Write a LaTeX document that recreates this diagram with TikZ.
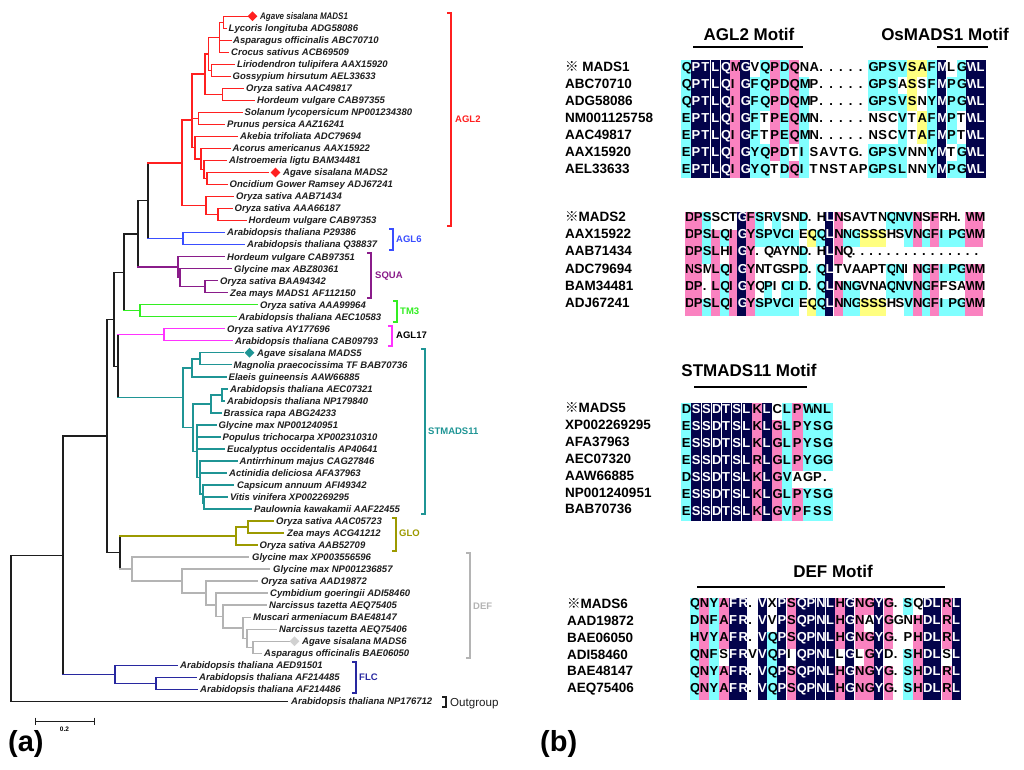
\documentclass[tikz,border=0pt]{standalone}
\usepackage{fontspec}
\usepackage{graphicx}
\setmainfont{Liberation Sans}
\newfontfamily\cjk{Noto Sans CJK SC}
\usetikzlibrary{shapes.geometric}
\definecolor{tr}{HTML}{FF2020}
\definecolor{tb}{HTML}{3A4EFF}
\definecolor{tp}{HTML}{8A1C8A}
\definecolor{tg}{HTML}{33EE22}
\definecolor{tm}{HTML}{FF33FF}
\definecolor{tt}{HTML}{1F9595}
\definecolor{to}{HTML}{9C9A00}
\definecolor{tgr}{HTML}{B4B4B4}
\definecolor{tf}{HTML}{2828A0}
\definecolor{tk}{HTML}{1E1E1E}
\definecolor{coln}{HTML}{03034B}
\definecolor{colp}{HTML}{FA82C0}
\definecolor{colc}{HTML}{80FFFF}
\definecolor{coly}{HTML}{FFFF80}
\newcommand\leaffont{\fontsize{9.5}{11}\selectfont\bfseries\itshape}
\newcommand\brfont{\fontsize{9.5}{11}\selectfont\bfseries}
\newcommand\seqfont{\fontsize{13}{15}\selectfont\bfseries}
\newcommand\lblfont{\fontsize{13.5}{15}\selectfont\bfseries}
\newcommand\hdrfont{\fontsize{17}{19}\selectfont\bfseries}
\newcount\cidx
\newcount\cellno
\def\alncell#1#2{%
  \global\advance\cellno by 1
  \pgfmathsetmacro\cx{\xz+\cw*\the\cidx}%
  \pgfmathsetmacro\cyt{\ry-\bt}%
  \pgfmathsetmacro\cyb{\ry-\bt+\chh}%
  \ifx#2w\else
    \ifx#2n\pgfmathsetmacro\cxr{\cx+\cw-0.45}\else\pgfmathsetmacro\cxr{\cx+\cw}\fi
    \fill[col#2] (\cx,\cyt) rectangle (\cxr,\cyb);
  \fi
  \ifx#2n\def\tc{white}\else\def\tc{black}\fi
  \pgfmathsetmacro\tx{\cx+0.3}%
  \pgfmathsetmacro\tyb{\ry+4.65}%
  \node[seqch,text=\tc] (q\the\cellno) at (\tx,\tyb) {#1};%
}
\def\alnwalk#1#2\endA#3#4\endB{%
  \alncell{#1}{#3}%
  \advance\cidx by 1\relax
  \ifx\relax#2\else\alnwalk#2\endA#4\endB\fi}
\def\alnrow#1#2#3{\def\ry{#1}\cidx=0\relax\alnwalk#2\relax\endA#3\relax\endB}
\begin{document}
\begin{tikzpicture}[x=1pt,y=-1pt,
  leaf/.style={anchor=base west,inner sep=0pt,font=\leaffont,text=tk},
  brlab/.style={anchor=base west,inner sep=0pt,font=\brfont},
  seqch/.style={anchor=base west,inner sep=0pt,font=\seqfont},
  rowlab/.style={anchor=base west,inner sep=0pt,font=\lblfont,text=black},
  hdr/.style={anchor=base,inner sep=0pt,font=\hdrfont,text=black},
  branch/.style={line width=1.4pt,line cap=rect},
  bkt/.style={line width=1.6pt},
  dmd/.style={diamond,aspect=1,minimum width=10pt,minimum height=10pt,inner sep=0pt,draw=none}]
\fill[white] (0,0) rectangle (1024,769);
\useasboundingbox (0,0) rectangle (1024,769);
% ---------------- leaves
\foreach \i/\a/\b/\t in {
1/247/260/\scalebox{0.84}[1]{Agave sisalana MADS1},
2/226/228.5/Lycoris longituba ADG58086,
3/231/233/Asparagus officinalis ABC70710,
4/228/231/Crocus sativus ACB69509,
5/234/237/Liriodendron tulipifera AAX15920,
6/230/232.5/Gossypium hirsutum AEL33633,
7/243/246/Oryza sativa AAC49817,
8/254/257/Hordeum vulgare CAB97355,
9/242/244.5/Solanum lycopersicum NP001234380,
10/224/227/Prunus persica AAZ16241,
11/237/240/Akebia trifoliata ADC79694,
12/230/232.5/Acorus americanus AAX15922,
13/226/229/Alstroemeria ligtu BAM34481,
14/268/283/Agave sisalana MADS2,
15/227/229.5/Oncidium Gower Ramsey ADJ67241,
16/233/236/Oryza sativa AAB71434,
17/232/234.5/Oryza sativa AAA66187,
18/246/248.5/Hordeum vulgare CAB97353,
19/224/227/Arabidopsis thaliana P29386,
20/244/247/Arabidopsis thaliana Q38837,
21/224/227/Hordeum vulgare CAB97351,
22/231/234/Glycine max ABZ80361,
23/217/220/Oryza sativa BAA94342,
24/227/230/Zea mays MADS1 AF112150,
25/257/260/Oryza sativa AAA99964,
26/236/238.5/Arabidopsis thaliana AEC10583,
27/224/227/Oryza sativa AY177696,
28/232/235/Arabidopsis thaliana CAB09793,
29/243/257/Agave sisalana MADS5,
30/231/233.5/Magnolia praecocissima TF BAB70736,
31/226/228.5/Elaeis guineensis AAW66885,
32/227/230/Arabidopsis thaliana AEC07321,
33/224/227/Arabidopsis thaliana NP179840,
34/221/223.5/Brassica rapa ABG24233,
35/216/218.5/Glycine max NP001240951,
36/220/222.5/Populus trichocarpa XP002310310,
37/224/227/Eucalyptus occidentalis AP40641,
38/237/239.5/Antirrhinum majus CAG27846,
39/226/229/Actinidia deliciosa AFA37963,
40/233/237/Capsicum annuum AFI49342,
41/227/230/Vitis vinifera XP002269295,
42/251/254/Paulownia kawakamii AAF22455,
43/273/276/Oryza sativa AAC05723,
44/283/287/Zea mays ACG41212,
45/257/259.5/Oryza sativa AAB52709,
46/248/252/Glycine max XP003556596,
47/269/273/Glycine max NP001236857,
48/257/261/Oryza sativa AAD19872,
49/267/270/Cymbidium goeringii ADI58460,
50/266/269/Narcissus tazetta AEQ75405,
51/250/253/Muscari armeniacum BAE48147,
52/276/279/Narcissus tazetta AEQ75406,
53/290/302/Agave sisalana MADS6,
54/261/264/Asparagus officinalis BAE06050,
55/177/180/Arabidopsis thaliana AED91501,
56/196/199/Arabidopsis thaliana AF214485,
57/197/200/Arabidopsis thaliana AF214486,
58/287/291/Arabidopsis thaliana NP176712}{
  \pgfmathsetmacro\ly{16.2+12.02*(\i-1)}
  \coordinate (L\i) at (\a,\ly);
  \pgfmathsetmacro\lyb{\ly+3.4}
  \node[leaf] (T\i) at (\b,\lyb) {\t};
}
% ---------------- internal nodes
\coordinate (na) at (223.3,22.2);
\coordinate (nb) at (219.3,37.3);
\coordinate (n2) at (211.7,70.3);
\coordinate (n3) at (208.3,53.8);
\coordinate (n4) at (222.3,94.3);
\coordinate (n5) at (205,74.1);
\coordinate (n6) at (198.3,118.4);
\coordinate (n7) at (207,178.5);
\coordinate (n8) at (204,169.5);
\coordinate (n9) at (201,159);
\coordinate (n10) at (195,147.7);
\coordinate (n11) at (192,120);
\coordinate (n13) at (218,214.5);
\coordinate (n14) at (206,205.5);
\coordinate (n15) at (182,162.8);
\coordinate (g6) at (183,238.6);
\coordinate (b1) at (148,200.7);
\coordinate (s3) at (205,286.7);
\coordinate (s2) at (180,277.6);
\coordinate (s1) at (178,267.1);
\coordinate (b2) at (138,233.9);
\coordinate (tm3) at (140,310.7);
\coordinate (b3) at (124,272.3);
\coordinate (a17) at (164,334.7);
\coordinate (u1) at (200,358.8);
\coordinate (u2) at (192,367.8);
\coordinate (l1) at (222,394.8);
\coordinate (l2) at (211,403.9);
\coordinate (l5) at (204,503);
\coordinate (l4) at (203,494);
\coordinate (l3) at (200,477.5);
\coordinate (l6) at (197,451.2);
\coordinate (l7) at (193,427.6);
\coordinate (st) at (183,397.7);
\coordinate (b5) at (118,366.2);
\coordinate (b4) at (114,319.3);
\coordinate (o1) at (248,527.1);
\coordinate (o2) at (236,536.1);
\coordinate (d8) at (253,647.3);
\coordinate (d7) at (247,638.3);
\coordinate (d6) at (243,627.8);
\coordinate (d5) at (223,616.5);
\coordinate (d4) at (216,604.9);
\coordinate (d3) at (206,593);
\coordinate (d2) at (182,581.1);
\coordinate (d1) at (132,569.1);
\coordinate (b6) at (120,552.6);
\coordinate (b7) at (107,436);
\coordinate (f2) at (156,683.3);
\coordinate (f1) at (115,674.3);
\coordinate (b8) at (63,555.2);
\coordinate (rt) at (11,628);
% ---------------- branches
\foreach \p/\c/\pc/\cc in {
na/L1/tr/tr, na/L2/tr/tr, nb/na/tr/tr, nb/L3/tr/tr, nb/L4/tr/tr,
n2/L5/tr/tr, n2/L6/tr/tr, n3/nb/tr/tr, n3/n2/tr/tr, n4/L7/tr/tr, n4/L8/tr/tr,
n5/n3/tr/tr, n5/n4/tr/tr, n6/L9/tr/tr, n6/L10/tr/tr, n7/L14/tr/tr, n7/L15/tr/tr,
n8/L13/tr/tr, n8/n7/tr/tr, n9/L12/tr/tr, n9/n8/tr/tr, n10/L11/tr/tr, n10/n9/tr/tr,
n11/n5/tr/tr, n11/n6/tr/tr, n11/n10/tr/tr, n13/L17/tr/tr, n13/L18/tr/tr,
n14/L16/tr/tr, n14/n13/tr/tr, n15/n11/tr/tr, n15/n14/tr/tr,
b1/n15/tk/tr, b1/g6/tk/tb, g6/L19/tb/tb, g6/L20/tb/tb,
s3/L23/tp/tp, s3/L24/tp/tp, s2/L22/tp/tp, s2/s3/tp/tp, s1/L21/tp/tp, s1/s2/tp/tp,
b2/b1/tk/tk, b2/s1/tk/tp,
tm3/L25/tg/tg, tm3/L26/tg/tg, b3/b2/tk/tk, b3/tm3/tk/tg,
a17/L27/tm/tm, a17/L28/tm/tm,
u1/L29/tt/tt, u1/L30/tt/tt, u2/u1/tt/tt, u2/L31/tt/tt,
l1/L32/tt/tt, l1/L33/tt/tt, l2/l1/tt/tt, l2/L34/tt/tt,
l5/L41/tt/tt, l5/L42/tt/tt, l4/L40/tt/tt, l4/l5/tt/tt,
l3/L38/tt/tt, l3/L39/tt/tt, l3/l4/tt/tt,
l6/L35/tt/tt, l6/L36/tt/tt, l6/L37/tt/tt, l6/l3/tt/tt,
l7/l2/tt/tt, l7/l6/tt/tt, st/u2/tt/tt, st/l7/tt/tt,
b5/a17/tk/tm, b5/st/tk/tt, b4/b3/tk/tk, b4/b5/tk/tk,
o1/L43/to/to, o1/L44/to/to, o2/o1/to/to, o2/L45/to/to,
d8/L53/tgr/tgr, d8/L54/tgr/tgr, d7/L52/tgr/tgr, d7/d8/tgr/tgr,
d6/L51/tgr/tgr, d6/d7/tgr/tgr, d5/L50/tgr/tgr, d5/d6/tgr/tgr,
d4/L49/tgr/tgr, d4/d5/tgr/tgr, d3/L48/tgr/tgr, d3/d4/tgr/tgr,
d2/L47/tgr/tgr, d2/d3/tgr/tgr, d1/L46/tgr/tgr, d1/d2/tgr/tgr,
b6/o2/tk/to, b6/d1/tk/tgr, b7/b4/tk/tk, b7/b6/tk/tk,
f2/L56/tf/tf, f2/L57/tf/tf, f1/L55/tf/tf, f1/f2/tf/tf,
b8/b7/tk/tk, b8/f1/tk/tf, rt/b8/tk/tk, rt/L58/tk/tk}{
  \draw[branch,color=\pc] (\p) -- (\p |- \c);
  \draw[branch,color=\cc] (\p |- \c) -- (\c);
}
% ---------------- diamonds
\node[dmd,fill=tr] (D1) at (252.5,16.2) {};
\node[dmd,fill=tr] (D14) at (275.5,172.5) {};
\node[dmd,fill=tt] (D29) at (249.5,352.8) {};
\node[dmd,fill=black!18] (D53) at (294.5,641.2) {};
% ---------------- brackets
\foreach \x/\ya/\yb/\cl in {451/13/226/tr, 393/229/250/tb, 371/253/298/tp,
  397/301/322/tg, 392/326/346/tm, 425/349/514/tt, 396/518/551/to,
  470/553/658/tgr, 356/662/693/tf, 446/697/707/tk}{
  \draw[bkt,color=\cl] (\x-4,\ya) -- (\x,\ya) -- (\x,\yb) -- (\x-4,\yb);
}
\node[brlab,text=tr] (cAGL2) at (455,122.4) {AGL2};
\node[brlab,text=tb] (cAGL6) at (396,242.4) {AGL6};
\node[brlab,text=tp] (cSQUA) at (375,278.4) {SQUA};
\node[brlab,text=tg] (cTM3) at (400,314.4) {TM3};
\node[brlab,text=black] (cAGL17) at (396,338.4) {AGL17};
\node[brlab,text=tt] (cST) at (428,434.4) {STMADS11};
\node[brlab,text=to] (cGLO) at (399,536.4) {GLO};
\node[brlab,text=tgr] (cDEF) at (473,609.4) {DEF};
\node[brlab,text=tf] (cFLC) at (359,680.4) {FLC};
\node[anchor=base west,inner sep=0pt,font=\fontsize{11.6}{13}\selectfont,text=tk] (cOut) at (450,706.2) {Outgroup};
% ---------------- scale bar
\draw[line width=1pt,tk] (35,721) -- (94,721);
\draw[line width=1pt,tk] (35,717.5) -- (35,724.5);
\draw[line width=1pt,tk] (94,717.5) -- (94,724.5);
\node[anchor=base,inner sep=0pt,font=\fontsize{6.5}{7}\selectfont\bfseries] (sc) at (64.5,731) {0.2};
\node[anchor=base west,inner sep=0pt,font=\fontsize{29}{31}\selectfont\bfseries] (pa) at (8,751) {(a)};
\node[anchor=base west,inner sep=0pt,font=\fontsize{29}{31}\selectfont\bfseries] (pb) at (540,751) {(b)};
% ---------------- motif headers
\node[hdr] (h1) at (749,40.3) {AGL2 Motif};
\draw[line width=2.2pt] (693,47) -- (803,47);
\node[hdr] (h2) at (945,40.3) {OsMADS1 Motif};
\draw[line width=2.2pt] (937,47) -- (988,47);
\node[hdr] (h3) at (749,376) {STMADS11 Motif};
\draw[line width=2.2pt] (694,387) -- (807,387);
\node[hdr] (h4) at (833,577.6) {DEF Motif};
\draw[line width=2.2pt] (697,587) -- (945,587);
% ---------------- panel 1
\def\xz{681.3}\def\cw{9.83}\def\chh{16.95}\def\bt{7}
\alnrow{66.7}{QPTLQMGVQPDQNA.....GPSVSAFMLGWL}{cnnnnpnwcpcpwwwwwwwccccyycnwcnn}
\alnrow{83.65}{QPTLQIGFQPDQMP.....GPSASSFMPGWL}{cnnnnpnccpcpcwwwwwwcccwywcnccnn}
\alnrow{100.6}{QPTLQIGFQPDQMP.....GPSVSNYMPGWL}{cnnnnpnccpcpcwwwwwwccccywcnccnn}
\alnrow{117.55}{EPTLQIGFTPEQMN.....NSCVTAFMPTWL}{cnnnnpncwpcpcwwwwwwwwwcwycncwnn}
\alnrow{134.5}{EPTLQIGFTPEQMN.....NSCVTAFMPTWL}{cnnnnpncwpcpcwwwwwwwwwcwycncwnn}
\alnrow{151.45}{EPTLQIGYQPDTISAVTG.GPSVNNYMTGWL}{cnnnnpnccpcwcwwwwwwccccwwcnwcnn}
\alnrow{168.4}{EPTLQIGYQTDQITNSTAPGPSLNNYMPGWL}{cnnnnpnccwcpcwwwwwwccccwwcnccnn}
\node[rowlab] (r11) at (565,71.35) {{\cjk ※} MADS1};
\node[rowlab] (r12) at (565,88.3) {ABC70710};
\node[rowlab] (r13) at (565,105.25) {ADG58086};
\node[rowlab] (r14) at (565,122.2) {NM001125758};
\node[rowlab] (r15) at (565,139.15) {AAC49817};
\node[rowlab] (r16) at (565,156.1) {AAX15920};
\node[rowlab] (r17) at (565,173.05) {AEL33633};
% ---------------- panel 2
\def\xz{684.7}\def\cw{8.77}\def\chh{17.3}\def\bt{4.5}
\alnrow{216.7}{DPSSCTGFSRVSND.HLNSAVTNQNVNSFRH.WM}{ppcwwwnpcwcwwcwwnpwwwwwcccpwpwwwpp}
\alnrow{234.0}{DPSLQIGYSPVCIEQQLNNGSSSHSVNGFIPGWM}{ppcpcpnpcccccwycnpccyyywwcpcpcccpp}
\alnrow{251.3}{DPSLHIGY.QAYND.HLNQ...............}{ppcpwpnpwwwwwcwwnpwwwwwwwwwwwwwwww}
\alnrow{268.6}{NSMLQIGYNTGSPD.QLTVAAPTQNINGFIPGWM}{ppwpcpnpwwwwwcwcnwwwwwwccwpcpcccpp}
\alnrow{285.9}{DP.LQIGYQPICID.QLNNGVNAQNVNGFFSAWM}{ppwpcpnpwcwcccwcnpccwwwcccpcpwwwpp}
\alnrow{303.2}{DPSLQIGYSPVCIEQQLNNGSSSHSVNGFIPGWM}{ppcpcpnpcccccwycnpccyyywwcpcpcccpp}
\node[rowlab] (r21) at (565,221.35) {{\cjk ※}MADS2};
\node[rowlab] (r22) at (565,238.65) {AAX15922};
\node[rowlab] (r23) at (565,255.95) {AAB71434};
\node[rowlab] (r24) at (565,273.25) {ADC79694};
\node[rowlab] (r25) at (565,290.55) {BAM34481};
\node[rowlab] (r26) at (565,307.85) {ADJ67241};
% ---------------- panel 3
\def\xz{681.3}\def\cw{10.1}\def\chh{16.9}\def\bt{6.3}
\alnrow{409.3}{DSSDTSLKLCLPWNL}{cnnnnnnpnwcpccc}
\alnrow{426.2}{ESSDTSLKLGLPYSG}{cnnnnnnpnpcpccc}
\alnrow{443.1}{ESSDTSLKLGLPYSG}{cnnnnnnpnpcpccc}
\alnrow{460.0}{ESSDTSLRLGLPYGG}{cnnnnnnpnpcpccc}
\alnrow{476.9}{DSSDTSLKLGVAGP.}{cnnnnnnpnpcwwww}
\alnrow{493.8}{ESSDTSLKLGLPYSG}{cnnnnnnpnpcpccc}
\alnrow{510.7}{ESSDTSLKLGVPFSS}{cnnnnnnpnpcpccc}
\node[rowlab] (r31) at (565,412.5) {{\cjk ※}MADS5};
\node[rowlab] (r32) at (565,429.4) {XP002269295};
\node[rowlab] (r33) at (565,446.3) {AFA37963};
\node[rowlab] (r34) at (565,463.2) {AEC07320};
\node[rowlab] (r35) at (565,480.1) {AAW66885};
\node[rowlab] (r36) at (565,497.0) {NP001240951};
\node[rowlab] (r37) at (565,513.9) {BAB70736};
% ---------------- panel 4
\def\xz{689.7}\def\cw{9.7}\def\chh{16.95}\def\bt{5}
\alnrow{603}{QNYAFR.VXPSQPNLHGNGYG.SQDLRL}{cpcpnnwnwnpnnnnpnppnpwcwnnpn}
\alnrow{619.95}{DNFAFR.VVPSQPNLHGNAYGGNHDLRL}{cpcpnnwnwnpnnnnpnpwnpwwpnnpn}
\alnrow{636.9}{HVYAFR.VQPSQPNLHGNGYG.PHDLRL}{cpcpnnwncnpnnnnpnppnpwwpnnpn}
\alnrow{653.85}{QNFSFRVVQPIQPNLLGLGYD.SHDLSL}{cpcwnnwncnwnnnnwnwpnwwcpnnwn}
\alnrow{670.8}{QNYAFR.VQPSQPNLHGNGYG.SHDLRL}{cpcpnnwncnpnnnnpnppnpwcpnnpn}
\alnrow{687.75}{QNYAFR.VQPSQPNLHGNGYG.SHDLRL}{cpcpnnwncnpnnnnpnppnpwcpnnpn}
\node[rowlab] (r41) at (567,608.15) {{\cjk ※}MADS6};
\node[rowlab] (r42) at (567,625.1) {AAD19872};
\node[rowlab] (r43) at (567,642.05) {BAE06050};
\node[rowlab] (r44) at (567,659.0) {ADI58460};
\node[rowlab] (r45) at (567,675.95) {BAE48147};
\node[rowlab] (r46) at (567,692.9) {AEQ75406};
\end{tikzpicture}
\end{document}
